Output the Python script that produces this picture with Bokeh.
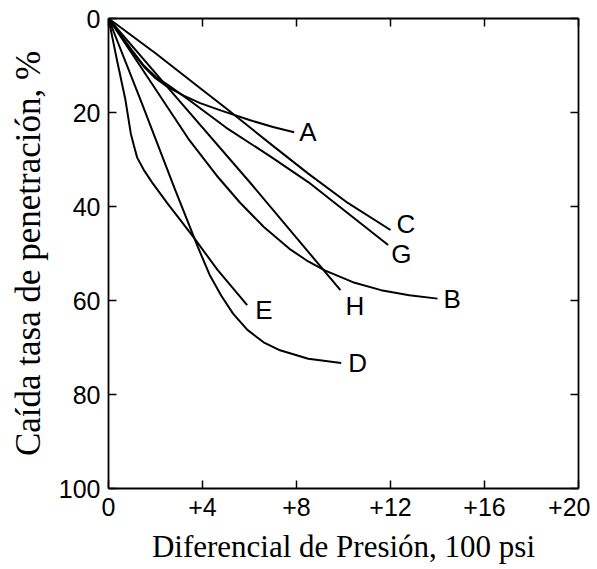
from bokeh.plotting import figure
from bokeh.models import (Range1d, LinearAxis, FixedTicker, ColumnDataSource,
                          CustomLabelingPolicy)
from bokeh.embed import file_html
from bokeh.resources import INLINE
from bokeh.core.properties import value

# ---- data ----
x_ticks = [0, 4, 8, 12, 16, 20]
x_tick_labels = ["0", "+4", "+8", "+12", "+16", "+20"]
y_ticks = [0, 20, 40, 60, 80, 100]
y_tick_labels = ["0", "20", "40", "60", "80", "100"]

A_x = [0, 0.5, 1.0, 1.5, 2.0, 2.5, 3.2, 3.9, 4.8, 6.0, 7.0, 7.9]
A_y = [0, 3.5, 7.0, 10.2, 12.7, 14.5, 16.4, 18.0, 19.6, 21.6, 23.1, 24.2]

B_x = [0, 1.2, 2.3, 3.4, 4.6, 5.6, 6.6, 7.7, 8.5, 9.2, 10.4, 11.6, 12.8, 14.0]
B_y = [0, 9.0, 17.3, 25.6, 33.4, 39.2, 44.3, 49.0, 51.7, 53.6, 56.1, 57.8, 58.9, 59.6]

C_x = [0, 2.0, 4.0, 5.0, 7.0, 8.5, 10.2, 12.0]
C_y = [0, 7.4, 15.2, 19.1, 27.1, 33.0, 39.3, 45.0]

D_x = [0, 1.4, 2.8, 3.8, 4.3, 4.8, 5.3, 5.9, 6.6, 7.3, 8.5, 9.9]
D_y = [0, 17.8, 36.0, 48.6, 54.5, 59.0, 62.8, 66.2, 68.9, 70.6, 72.4, 73.3]

E_x = [0, 0.35, 0.72, 0.95, 1.08, 1.22, 1.5, 1.9, 2.5, 3.06, 3.6, 4.64, 5.9]
E_y = [0, 8.6, 17.3, 24.5, 27.0, 29.6, 32.2, 35.2, 39.3, 42.9, 46.4, 53.5, 61.0]

G_x = [0, 0.5, 1.0, 1.5, 2.0, 2.6, 3.5, 5.0, 6.9, 8.5, 10.2, 11.9]
G_y = [0, 3.4, 6.8, 10.0, 12.4, 14.4, 17.6, 23.2, 29.4, 34.8, 41.5, 48.2]

H_x = [0, 2.98, 6.04, 9.87]
H_y = [0, 17.3, 35.0, 57.8]

curve_names = ["A", "B", "C", "D", "E", "G", "H"]
curves_x = [A_x, B_x, C_x, D_x, E_x, G_x, H_x]
curves_y = [A_y, B_y, C_y, D_y, E_y, G_y, H_y]

# label offsets from each curve end (pixels)
label_dx = [5, 6, 6, 7, 8, 3, 5]
label_dy = [0, 0, -6, 0, 5, 9, 16]

# ---- figure ----
p = figure(width=590, height=566,
           x_range=Range1d(0, 20), y_range=Range1d(100, 0),
           output_backend="svg", toolbar_location=None,
           x_axis_location=None, y_axis_location=None,
           min_border_left=108, min_border_right=12,
           min_border_top=18, min_border_bottom=78)
p.grid.visible = False
p.outline_line_color = None
p.background_fill_color = "white"
p.border_fill_color = "white"

tick_font = "Liberation Sans"
label_font = "Liberation Serif"

hide_labels = CustomLabelingPolicy(code="""
    for (const i of indices)
        indices.unset(i)
""")

def style_axis(ax, ticks, labels=None, show_labels=True):
    ax.ticker = FixedTicker(ticks=ticks)
    ax.major_tick_in = 8
    ax.major_tick_out = 0
    ax.major_tick_line_width = 1.5
    ax.major_tick_line_color = "black"
    ax.minor_tick_line_color = None
    ax.axis_line_width = 1.8
    ax.axis_line_color = "black"
    if show_labels:
        ax.major_label_overrides = {t: l for t, l in zip(ticks, labels)}
        ax.major_label_text_font = tick_font
        ax.major_label_text_font_size = "25px"
        ax.major_label_text_color = "black"
    else:
        ax.major_label_policy = hide_labels
        ax.major_label_text_font_size = "1px"
        ax.major_label_standoff = 0

bottom = LinearAxis()
style_axis(bottom, x_ticks, x_tick_labels)
bottom.major_label_standoff = 9
bottom.axis_label = "Diferencial de Presión, 100 psi"
bottom.axis_label_text_font = label_font
bottom.axis_label_text_font_style = "normal"
bottom.axis_label_text_font_size = "31px"
bottom.axis_label_text_color = "black"
bottom.axis_label_standoff = 10
p.add_layout(bottom, "below")

left = LinearAxis()
style_axis(left, y_ticks, y_tick_labels)
left.major_label_standoff = 8
left.axis_label = "Caída tasa de penetración, %"
left.axis_label_text_font = label_font
left.axis_label_text_font_style = "normal"
left.axis_label_text_font_size = "35px"
left.axis_label_text_color = "black"
left.axis_label_standoff = 8
p.add_layout(left, "left")

top = LinearAxis()
style_axis(top, x_ticks, show_labels=False)
p.add_layout(top, "above")

right = LinearAxis()
style_axis(right, y_ticks, show_labels=False)
p.add_layout(right, "right")

for cx, cy in zip(curves_x, curves_y):
    p.line(cx, cy, line_color="black", line_width=2)

src = ColumnDataSource(dict(
    x=[c[-1] for c in curves_x],
    y=[c[-1] for c in curves_y],
    t=curve_names,
    dx=label_dx,
    dy=label_dy,
))
p.text(x="x", y="y", text="t", x_offset="dx", y_offset="dy", source=src,
       text_font=value(tick_font), text_font_size="26px",
       text_align="left", text_baseline="middle", text_color="black")

open("out.html", "w").write(file_html(p, INLINE))
